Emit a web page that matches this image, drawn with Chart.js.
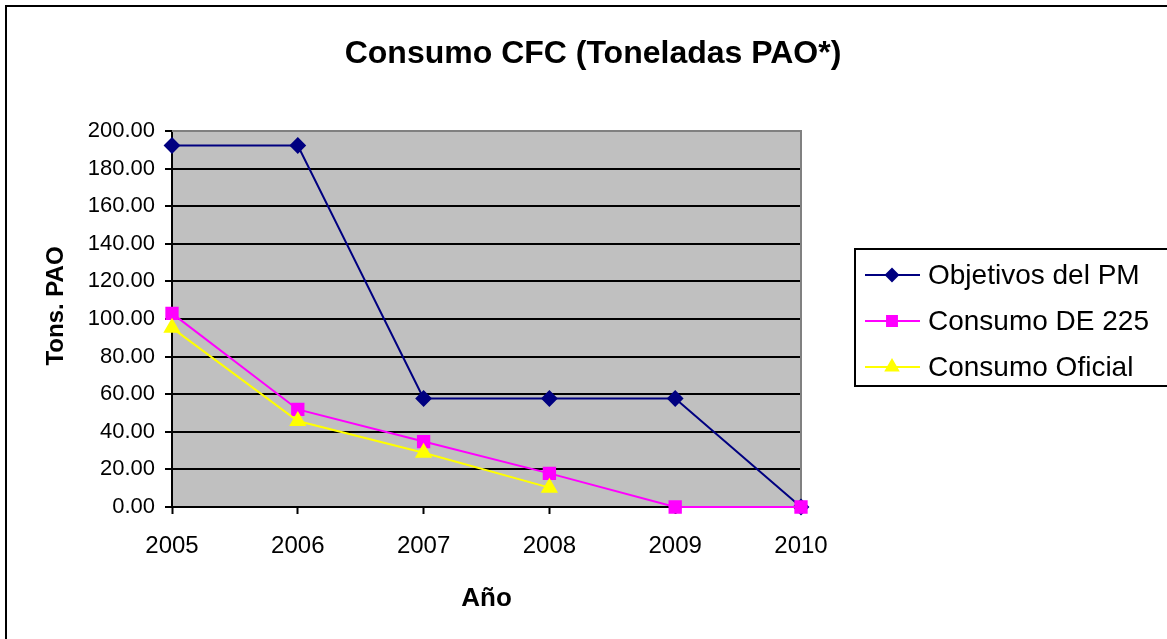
<!DOCTYPE html>
<html>
<head>
<meta charset="utf-8">
<title>Consumo CFC</title>
<script src="https://cdn.jsdelivr.net/npm/chart.js@4.4.1/dist/chart.umd.min.js"></script>
<style>
    body { margin: 0; background: #fff; }
    #myChart { display: block; }
</style>
</head>
<body>
<canvas id="myChart" width="1167" height="639"></canvas>
<script>
// data
const years = ['2005', '2006', '2007', '2008', '2009', '2010'];
const objetivosPM = [192.3, 192.3, 57.7, 57.7, 57.7, 0];
const consumoDE225 = [103.0, 51.9, 34.8, 17.9, 0, 0];
const consumoOficial = [95.3, 45.7, 28.9, 10.3, null, null];
const yTicks = [0, 20, 40, 60, 80, 100, 120, 140, 160, 180, 200];

const FONT = "'Liberation Sans', Arial, sans-serif";

// background, plot area, outer frame, y title and the excel-like legend
const excelLook = {
    id: 'excelLook',
    beforeDraw(chart) {
        const c = chart.ctx;
        const a = chart.chartArea;
        c.save();
        c.fillStyle = '#fff';
        c.fillRect(0, 0, chart.width, chart.height);
        c.fillStyle = '#c0c0c0';
        c.fillRect(a.left, a.top, a.right - a.left, a.bottom - a.top);
        c.restore();
    },
    beforeDatasetsDraw(chart) {
        const c = chart.ctx;
        const a = chart.chartArea;
        c.save();
        c.strokeStyle = '#808080';
        c.lineWidth = 2;
        c.beginPath();
        c.moveTo(a.left, a.top);
        c.lineTo(a.right, a.top);
        c.lineTo(a.right, a.bottom);
        c.stroke();
        c.restore();
    },
    afterDraw(chart) {
        const c = chart.ctx;
        c.save();
        // frame
        c.strokeStyle = '#000';
        c.lineWidth = 2;
        c.strokeRect(6, 6, 1220, 700);

        // y axis title
        c.translate(56, 306);
        c.rotate(-Math.PI / 2);
        c.font = 'bold 24px ' + FONT;
        c.fillStyle = '#000';
        c.textAlign = 'center';
        c.textBaseline = 'middle';
        c.fillText('Tons. PAO', 0, 0);
        c.setTransform(1, 0, 0, 1, 0, 0);

        // legend
        c.lineWidth = 2;
        c.strokeStyle = '#000';
        c.strokeRect(855, 249, 400, 137);
        const rows = [275, 321, 367];
        chart.data.datasets.forEach((ds, i) => {
            const y = rows[i];
            c.strokeStyle = ds.borderColor;
            c.lineWidth = 2;
            c.beginPath();
            c.moveTo(865, y);
            c.lineTo(920, y);
            c.stroke();
            Chart.helpers.drawPoint(c, {
                pointStyle: ds.pointStyle,
                radius: ds.pointRadius - 1,
                borderWidth: 1
            }, 892, y);
            c.fillStyle = ds.pointBackgroundColor;
            c.strokeStyle = ds.borderColor;
            c.fill();
            c.fillStyle = '#000';
            c.font = '28px ' + FONT;
            c.textAlign = 'left';
            c.textBaseline = 'middle';
            c.fillText(ds.label, 928, y + 1);
        });
        c.restore();
    }
};

const data = {
    labels: years,
    datasets: [{
        label: 'Objetivos del PM',
        data: objetivosPM,
        borderColor: '#000080',
        backgroundColor: '#000080',
        pointBackgroundColor: '#000080',
        pointBorderColor: '#000080',
        pointStyle: 'rectRot',
        pointRadius: 7,
        borderWidth: 2,
        order: 3
    }, {
        label: 'Consumo DE 225',
        data: consumoDE225,
        borderColor: '#ff00ff',
        backgroundColor: '#ff00ff',
        pointBackgroundColor: '#ff00ff',
        pointBorderColor: '#ff00ff',
        pointStyle: 'rect',
        pointRadius: 8,
        borderWidth: 2,
        order: 2
    }, {
        label: 'Consumo Oficial',
        data: consumoOficial,
        borderColor: '#ffff00',
        backgroundColor: '#ffff00',
        pointBackgroundColor: '#ffff00',
        pointBorderColor: '#ffff00',
        pointStyle: 'triangle',
        pointRadius: 8,
        borderWidth: 2,
        order: 1
    }]
};

const config = {
    type: 'line',
    data: data,
    options: {
        responsive: false,
        animation: false,
        devicePixelRatio: 1,
        clip: false,
        elements: {
            line: { tension: 0, fill: false },
            point: { borderWidth: 1, hoverRadius: 8 }
        },
        layout: { padding: { left: 19, right: 0, top: 0, bottom: 0 } },
        plugins: {
            legend: { display: false },
            tooltip: { enabled: false },
            title: {
                display: true,
                text: 'Consumo CFC (Toneladas PAO*)',
                color: '#000',
                font: { family: FONT, size: 32, weight: 'bold', lineHeight: 1.2 },
                padding: { top: 35, bottom: 57.6 }
            }
        },
        scales: {
            x: {
                offset: false,
                grid: {
                    offset: false,
                    drawOnChartArea: false,
                    drawTicks: true,
                    tickLength: 7,
                    tickColor: '#000',
                    tickWidth: 2
                },
                border: { color: '#000', width: 2 },
                ticks: {
                    color: '#000',
                    padding: 18,
                    maxRotation: 0,
                    font: { family: FONT, size: 24 }
                },
                title: {
                    display: true,
                    text: 'Año',
                    color: '#000',
                    font: { family: FONT, size: 26, weight: 'bold', lineHeight: 1.2 },
                    padding: { top: 0, bottom: 25 }
                },
                afterFit(scale) { scale.height = 132; }
            },
            y: {
                min: 0,
                max: 200,
                afterBuildTicks(scale) {
                    scale.ticks = yTicks.map(v => ({ value: v }));
                },
                grid: {
                    color: ctx => (ctx.tick && ctx.tick.value === 200) ? 'rgba(0,0,0,0)' : '#000',
                    lineWidth: 2,
                    tickLength: 7,
                    tickColor: '#000',
                    tickWidth: 2
                },
                border: { color: '#000', width: 2 },
                ticks: {
                    color: '#000',
                    padding: 10,
                    font: { family: FONT, size: 22 },
                    callback: v => Number(v).toFixed(2)
                },
                afterFit(scale) { scale.width = 153; }
            },
            y2: {
                position: 'right',
                display: true,
                grid: { display: false, drawTicks: false },
                border: { display: false },
                ticks: { display: false },
                afterFit(scale) { scale.width = 366; }
            }
        }
    },
    plugins: [excelLook]
};

const myChart = new Chart(document.getElementById('myChart'), config);
</script>
</body>
</html>
